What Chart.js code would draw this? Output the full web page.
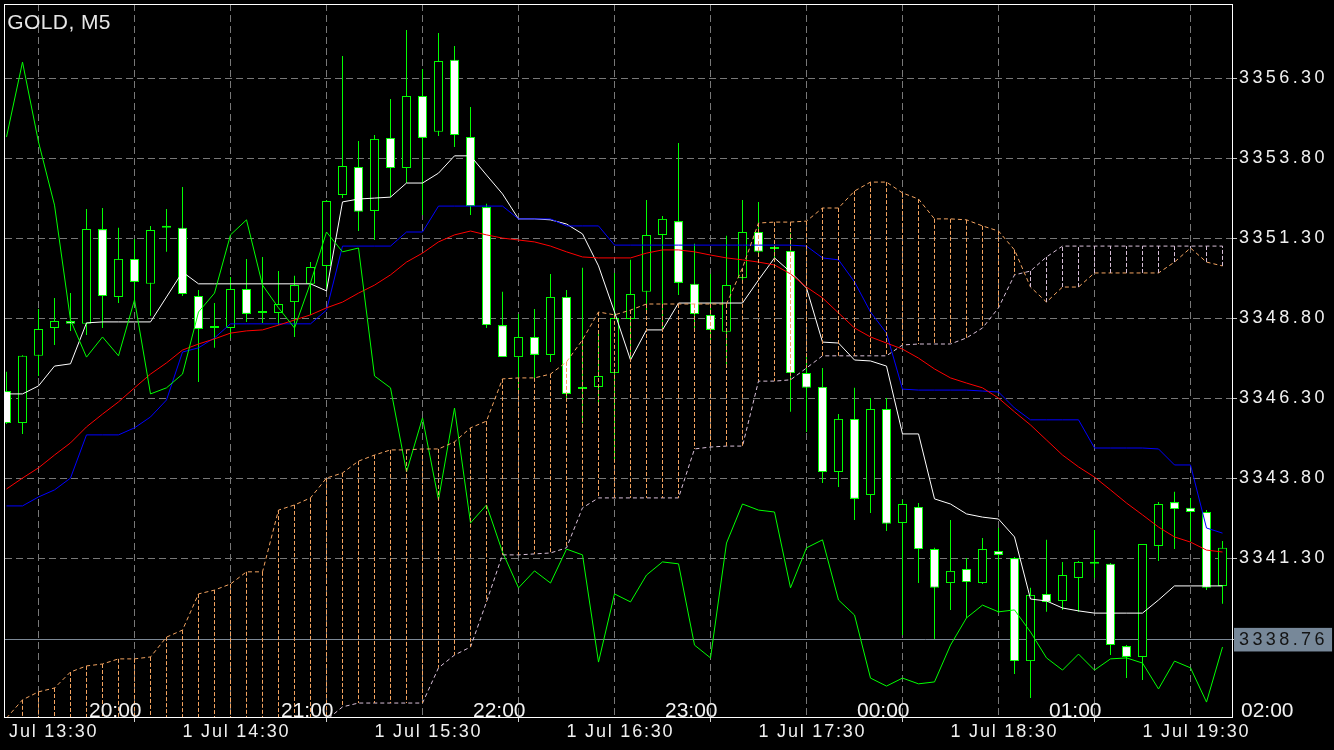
<!DOCTYPE html>
<html>
<head>
<meta charset="utf-8">
<style>
html,body{margin:0;padding:0;background:#000;overflow:hidden}
#wrap{position:relative;width:1334px;height:750px;background:#000}
canvas{display:block}
</style>
<script src="https://cdn.jsdelivr.net/npm/chart.js"></script>
</head>
<body>
<div id="wrap"><canvas id="c" width="1334" height="750"></canvas></div>
<script>
// ---------------- data ----------------
const symbolTitle = 'GOLD, M5';

const barOpen = [3346.53, 3345.53, 3347.63, 3348.50, 3348.72, 3348.63, 3351.59, 3349.47, 3350.66, 3349.88,
 3351.63, 3351.63, 3349.50, 3348.50, 3348.50, 3349.72, 3348.97, 3348.97, 3349.31, 3349.88,
 3350.44, 3352.66, 3353.53, 3352.16, 3354.44, 3353.50, 3355.75, 3354.63, 3356.88, 3354.47,
 3352.28, 3348.59, 3347.59, 3348.22, 3347.66, 3349.47, 3346.59, 3346.66, 3347.09, 3348.78,
 3349.63, 3351.41, 3351.84, 3349.88, 3348.91, 3348.38, 3350.06, 3351.50, 3350.97, 3350.91,
 3347.09, 3346.66, 3344.00, 3345.66, 3343.28, 3345.97, 3342.41, 3342.91, 3341.59, 3340.53,
 3340.97, 3340.53, 3341.53, 3341.31, 3338.09, 3340.19, 3339.97, 3340.69, 3341.13, 3341.13,
 3338.56, 3338.22, 3341.69, 3343.06, 3342.88, 3342.75, 3340.44];

const barHigh = [3347.13, 3347.65, 3349.09, 3349.44, 3349.59, 3352.22, 3352.25, 3351.63, 3351.28, 3351.69,
 3352.22, 3352.91, 3349.69, 3349.28, 3350.09, 3350.66, 3350.72, 3350.28, 3350.13, 3350.56,
 3352.50, 3357.00, 3354.34, 3354.53, 3355.66, 3357.81, 3356.59, 3357.72, 3357.31, 3355.41,
 3352.38, 3349.63, 3348.94, 3349.09, 3350.19, 3349.69, 3350.38, 3348.44, 3350.22, 3350.63,
 3352.50, 3352.00, 3354.28, 3351.13, 3350.19, 3351.38, 3352.50, 3352.44, 3351.09, 3351.47,
 3347.59, 3347.25, 3345.81, 3346.63, 3346.31, 3346.31, 3343.13, 3343.03, 3341.63, 3342.50,
 3341.31, 3341.94, 3342.25, 3341.34, 3340.38, 3341.88, 3341.19, 3341.22, 3342.19, 3341.16,
 3338.59, 3341.75, 3343.06, 3343.38, 3343.19, 3342.81, 3341.84];

const barLow = [3345.50, 3345.19, 3347.00, 3347.97, 3348.41, 3348.28, 3348.50, 3349.28, 3349.31, 3348.88,
 3350.88, 3349.50, 3346.81, 3347.88, 3348.19, 3348.69, 3348.66, 3348.59, 3348.22, 3348.91,
 3349.72, 3352.56, 3351.53, 3351.25, 3352.59, 3353.03, 3352.03, 3354.50, 3354.16, 3352.03,
 3348.50, 3347.59, 3346.56, 3346.94, 3347.44, 3346.25, 3345.53, 3346.09, 3344.34, 3347.50,
 3349.06, 3348.44, 3349.53, 3348.44, 3348.13, 3347.34, 3349.97, 3350.84, 3350.56, 3345.88,
 3345.25, 3343.66, 3343.53, 3342.50, 3342.72, 3342.16, 3338.91, 3340.53, 3338.78, 3339.69,
 3339.44, 3340.50, 3339.59, 3337.69, 3336.94, 3339.63, 3339.69, 3339.63, 3340.69, 3338.28,
 3337.56, 3337.50, 3341.22, 3341.59, 3341.81, 3340.31, 3339.88];

const barClose = [3345.53, 3347.63, 3348.47, 3348.72, 3348.63, 3351.59, 3349.50, 3350.66, 3349.94, 3351.56,
 3351.63, 3349.56, 3348.47, 3348.50, 3349.72, 3348.94, 3348.97, 3349.25, 3349.84, 3350.41,
 3352.47, 3353.56, 3352.13, 3354.41, 3353.50, 3355.75, 3354.44, 3356.84, 3354.53, 3352.31,
 3348.59, 3347.59, 3348.22, 3347.66, 3349.47, 3346.44, 3346.59, 3347.00, 3348.81, 3349.56,
 3351.41, 3351.91, 3349.91, 3348.94, 3348.44, 3349.84, 3351.50, 3350.88, 3350.97, 3347.09,
 3346.63, 3344.00, 3345.66, 3343.16, 3345.97, 3342.38, 3343.00, 3341.59, 3340.38, 3340.91,
 3340.56, 3341.59, 3341.41, 3338.09, 3340.16, 3339.94, 3340.78, 3341.19, 3341.13, 3338.59,
 3338.22, 3341.75, 3343.00, 3342.84, 3342.75, 3340.38, 3341.63];

// white line (Tenkan-sen)
const tenkan = [3346.44, 3346.44, 3346.69, 3347.31, 3347.38, 3348.66, 3348.69, 3348.69, 3348.69, 3348.69,
 3349.47, 3350.25, 3349.88, 3349.88, 3349.88, 3349.88, 3349.88, 3349.88, 3349.88, 3349.88,
 3349.66, 3352.44, 3352.53, 3352.56, 3352.59, 3353.03, 3353.03, 3353.34, 3353.88, 3353.88,
 3353.28, 3352.69, 3351.91, 3351.91, 3351.88, 3351.75, 3351.44, 3350.44, 3349.00, 3347.50,
 3348.44, 3348.44, 3349.28, 3349.28, 3349.28, 3349.28, 3349.28, 3350.00, 3350.69, 3350.25,
 3349.75, 3348.06, 3348.03, 3347.50, 3347.47, 3347.31, 3345.19, 3345.19, 3343.16, 3343.00,
 3342.69, 3342.59, 3342.53, 3341.97, 3340.03, 3339.97, 3339.75, 3339.66, 3339.59, 3339.59,
 3339.59, 3339.59, 3340.00, 3340.44, 3340.44, 3340.44, 3340.44];

// blue line (Kijun-sen)
const kijun = [3342.94, 3342.94, 3343.22, 3343.44, 3343.81, 3345.16, 3345.16, 3345.16, 3345.38, 3345.72,
 3346.25, 3347.75, 3347.88, 3348.19, 3348.63, 3348.63, 3348.63, 3348.63, 3348.63, 3348.63,
 3349.06, 3351.06, 3351.06, 3351.06, 3351.06, 3351.50, 3351.50, 3352.31, 3352.31, 3352.31,
 3352.31, 3352.31, 3351.91, 3351.91, 3351.91, 3351.69, 3351.69, 3351.69, 3351.09, 3351.09,
 3351.09, 3351.09, 3351.09, 3351.09, 3351.09, 3351.09, 3351.09, 3351.09, 3351.09, 3351.09,
 3351.06, 3350.69, 3350.63, 3349.94, 3349.00, 3348.34, 3346.59, 3346.56, 3346.56, 3346.56,
 3346.56, 3346.53, 3346.50, 3346.00, 3345.63, 3345.63, 3345.63, 3345.63, 3344.75, 3344.75,
 3344.75, 3344.75, 3344.72, 3344.22, 3344.22, 3342.25, 3342.09];

// red moving average
const maRed = [3343.47, 3343.81, 3344.13, 3344.53, 3344.91, 3345.41, 3345.81, 3346.19, 3346.63, 3347.06,
 3347.41, 3347.81, 3348.00, 3348.16, 3348.34, 3348.41, 3348.44, 3348.59, 3348.75, 3348.91,
 3349.13, 3349.31, 3349.59, 3349.84, 3350.16, 3350.56, 3350.84, 3351.19, 3351.41, 3351.53,
 3351.41, 3351.31, 3351.25, 3351.19, 3351.06, 3350.88, 3350.72, 3350.69, 3350.69, 3350.69,
 3350.84, 3350.94, 3350.94, 3350.88, 3350.78, 3350.69, 3350.63, 3350.56, 3350.47, 3350.19,
 3349.78, 3349.44, 3348.97, 3348.50, 3348.22, 3348.03, 3347.84, 3347.56, 3347.22, 3346.94,
 3346.78, 3346.63, 3346.31, 3345.88, 3345.47, 3345.00, 3344.53, 3344.16, 3343.84, 3343.44,
 3343.03, 3342.66, 3342.28, 3341.97, 3341.81, 3341.56, 3341.50];

// green line (Chikou span)
const chikou = [3354.47, 3356.81, 3354.31, 3352.34, 3348.75, 3347.59, 3348.22, 3347.63, 3349.38, 3346.44,
 3346.63, 3347.06, 3349.00, 3349.59, 3351.41, 3351.88, 3349.84, 3349.13, 3348.50, 3349.91,
 3351.50, 3350.88, 3351.00, 3347.00, 3346.63, 3344.00, 3345.69, 3343.13, 3346.00, 3342.41,
 3342.97, 3341.50, 3340.38, 3340.91, 3340.53, 3341.59, 3341.41, 3338.06, 3340.19, 3339.94,
 3340.78, 3341.19, 3341.13, 3338.59, 3338.19, 3341.78, 3343.00, 3342.81, 3342.75, 3340.38,
 3341.63, 3341.88, 3340.00, 3339.53, 3337.56, 3337.31, 3337.56, 3337.38, 3337.44, 3338.59,
 3339.44, 3339.84, 3339.63, 3339.69, 3339.00, 3338.19, 3337.81, 3338.31, 3337.81, 3338.16,
 3338.19, 3338.03, 3337.22, 3338.09, 3337.88, 3336.81, 3338.53];

// cloud: Senkou span A (sandy brown) and span B (thistle)
const spanA = [3336.31, 3336.88, 3337.13, 3337.25, 3337.75, 3337.94, 3338.00, 3338.16, 3338.16, 3338.22,
 3338.84, 3339.06, 3340.19, 3340.31, 3340.50, 3340.88, 3340.88, 3342.81, 3342.97, 3343.19,
 3343.81, 3343.97, 3344.34, 3344.53, 3344.69, 3344.69, 3344.72, 3344.72, 3344.94, 3345.38,
 3345.59, 3346.91, 3346.94, 3346.94, 3347.06, 3347.44, 3348.13, 3349.00, 3348.91, 3349.06,
 3349.25, 3349.25, 3349.25, 3349.25, 3349.25, 3349.25, 3350.38, 3351.78, 3351.81, 3351.81,
 3351.84, 3352.25, 3352.25, 3352.78, 3353.06, 3353.06, 3352.72, 3352.53, 3351.91, 3351.91,
 3351.88, 3351.69, 3351.53, 3350.94, 3349.78, 3349.31, 3349.78, 3349.78, 3350.22, 3350.22,
 3350.22, 3350.22, 3350.22, 3350.56, 3351.00, 3350.56, 3350.44];

const spanB = [3335.00, 3335.00, 3335.00, 3335.00, 3335.00, 3335.00, 3335.00, 3335.00, 3335.00, 3335.00,
 3335.00, 3335.00, 3335.00, 3335.00, 3335.00, 3335.00, 3335.00, 3336.25, 3336.25, 3336.25,
 3336.25, 3336.66, 3336.78, 3336.78, 3336.78, 3336.78, 3336.78, 3337.88, 3338.28, 3338.53,
 3339.94, 3341.41, 3341.41, 3341.44, 3341.47, 3341.63, 3342.88, 3343.19, 3343.19, 3343.19,
 3343.19, 3343.19, 3343.19, 3344.72, 3344.78, 3344.81, 3344.81, 3346.84, 3346.84, 3346.88,
 3347.25, 3347.63, 3347.63, 3347.63, 3347.63, 3347.63, 3347.97, 3348.00, 3348.00, 3348.00,
 3348.19, 3348.50, 3349.13, 3350.16, 3350.28, 3350.72, 3351.06, 3351.06, 3351.06, 3351.06,
 3351.06, 3351.06, 3351.06, 3351.06, 3351.06, 3351.06, 3351.06];

const priceTicks = [3356.30, 3353.80, 3351.30, 3348.80, 3346.30, 3343.80, 3341.30];
const bidPrice = 3338.76;

const xTickBars = [-1, 5, 11, 17, 23, 29, 35, 41, 47, 53, 59, 65, 71];
const timeLabelBars = [-1, 11, 23, 35, 47, 59, 71];
const timeLabels = ['1 Jul 13:30', '1 Jul 14:30', '1 Jul 15:30', '1 Jul 16:30', '1 Jul 17:30', '1 Jul 18:30', '1 Jul 19:30'];
const localTimeBars = [5, 17, 29, 41, 53, 65, 77];
const localTimeLabels = ['20:00', '21:00', '22:00', '23:00', '00:00', '01:00', '02:00'];

// ---------------- build ----------------
const FONT = '"Liberation Sans", Arial, sans-serif';
const idx = barOpen.map((_, i) => i);
const pts = arr => arr.map((v, i) => ({x: i, y: v}));
const bodyData = idx.map(i => ({x: i, y: [Math.min(barOpen[i], barClose[i]), Math.max(barOpen[i], barClose[i])]}));
const wickData = idx.map(i => ({x: i, y: [barLow[i], barHigh[i]]}));
const bodyFill = idx.map(i => barClose[i] < barOpen[i] ? '#ffffff' : '#000000');
const kumoUp = [], kumoDown = [];
idx.forEach(i => {
  const t = spanA[i] >= spanB[i] ? kumoUp : kumoDown;
  t.push({x: i, y: spanA[i]}, {x: i, y: spanB[i]}, {x: i, y: null});
});

function spaced(spacing) {
  return function (scale) {
    if (!scale.__spaced) {
      const orig = scale.drawLabels;
      scale.drawLabels = function (area) {
        const c = this.ctx; const prev = c.letterSpacing;
        c.letterSpacing = spacing;
        orig.call(this, area);
        c.letterSpacing = prev || '0px';
      };
      scale.__spaced = true;
    }
  };
}
const spaceX = spaced('1.8px');
const spaceY = spaced('3.4px');

const lineBase = {type: 'line', pointRadius: 0, borderWidth: 1, tension: 0, fill: false, spanGaps: false};

const overlay = {
  id: 'overlay',
  afterDraw(chart) {
    const {ctx, chartArea: a, scales: {x}} = chart;
    ctx.save();
    ctx.strokeStyle = '#ffffff';
    ctx.lineWidth = 1;
    ctx.strokeRect(a.left - 0.5, a.top + 0.5, a.right - a.left + 1, a.bottom - a.top - 1);
    ctx.fillStyle = '#f2f2f2';
    ctx.textAlign = 'left';
    ctx.textBaseline = 'alphabetic';
    ctx.font = '21px ' + FONT;
    localTimeBars.forEach((b, k) => ctx.fillText(localTimeLabels[k], x.getPixelForValue(b) + 2.5, a.bottom - 1.5));
    ctx.fillStyle = '#e6e6e6';
    ctx.letterSpacing = '0.4px';
    ctx.fillText(symbolTitle, a.left + 2.3, a.top + 25.3);
    ctx.restore();
  }
};

new Chart(document.getElementById('c'), {
  type: 'line',
  data: {
    datasets: [
      Object.assign({}, lineBase, {label: 'kumoUp', data: kumoUp, borderColor: '#F4A460', borderDash: [4, 2], order: 1}),
      Object.assign({}, lineBase, {label: 'kumoDown', data: kumoDown, borderColor: '#D8BFD8', borderDash: [4, 2], order: 1}),
      Object.assign({}, lineBase, {label: 'spanA', data: pts(spanA), borderColor: '#F4A460', borderDash: [4, 3], order: 2}),
      Object.assign({}, lineBase, {label: 'spanB', data: pts(spanB), borderColor: '#D8BFD8', borderDash: [4, 3], order: 2}),
      Object.assign({}, lineBase, {label: 'chikou', data: pts(chikou), borderColor: '#00ff00', order: 3}),
      Object.assign({}, lineBase, {label: 'ma', data: pts(maRed), borderColor: '#ff0000', order: 4}),
      Object.assign({}, lineBase, {label: 'kijun', data: pts(kijun), borderColor: '#0000ff', order: 5}),
      Object.assign({}, lineBase, {label: 'tenkan', data: pts(tenkan), borderColor: '#ffffff', order: 6}),
      {type: 'bar', label: 'body', data: bodyData, backgroundColor: bodyFill, borderColor: '#00ff00',
       borderWidth: 1, borderSkipped: false, grouped: false, maxBarThickness: 9, minBarLength: 2,
       inflateAmount: 0, order: 7},
      {type: 'bar', label: 'wick', data: wickData, backgroundColor: '#00ff00', borderWidth: 0,
       grouped: false, maxBarThickness: 1, inflateAmount: 0, order: 8}
    ]
  },
  options: {
    responsive: false,
    animation: false,
    devicePixelRatio: 1,
    events: [],
    layout: {padding: {left: 5, top: 4, right: 0, bottom: 0}},
    plugins: {legend: {display: false}, tooltip: {enabled: false}, title: {display: false}},
    scales: {
      x: {
        type: 'linear', position: 'bottom', min: -0.09375, max: 76.59375, offset: false,
        afterBuildTicks: s => { s.ticks = xTickBars.map(v => ({value: v})); },
        afterFit: s => { s.height = 32; s.paddingLeft = 0; s.paddingRight = 0; spaceX(s); },
        grid: {
          color: '#787878', lineWidth: 1, drawOnChartArea: true, drawTicks: true, tickLength: 4,
          tickColor: c => timeLabelBars.includes(c.tick && c.tick.value) ? '#cfcfcf' : 'rgba(0,0,0,0)'
        },
        border: {display: false, dash: [7, 4]},
        ticks: {
          autoSkip: false, maxRotation: 0, minRotation: 0, align: 'start', padding: 1,
          color: '#f0f0f0', font: {family: FONT, size: 18, lineHeight: 1},
          callback: v => { const k = timeLabelBars.indexOf(v); return k >= 0 ? timeLabels[k] : ''; }
        }
      },
      y: {
        type: 'linear', position: 'right', min: 3336.3125, max: 3358.625,
        afterBuildTicks: s => { s.ticks = priceTicks.concat([bidPrice]).map(v => ({value: v})); },
        afterFit: s => { s.width = 102; s.paddingTop = 0; s.paddingBottom = 0; spaceY(s); },
        grid: {
          color: c => (c.tick && c.tick.value === bidPrice) ? '#7d8996' : '#787878',
          lineWidth: 1, drawTicks: true, tickLength: 5, tickColor: '#c8c8c8'
        },
        border: {display: false, dash: c => (c.tick && c.tick.value === bidPrice) ? [] : [7, 4]},
        ticks: {
          autoSkip: false, padding: 2,
          color: c => (c.tick && c.tick.value === bidPrice) ? '#141414' : '#f0f0f0',
          font: {family: FONT, size: 18},
          showLabelBackdrop: c => !!(c.tick && c.tick.value === bidPrice),
          backdropColor: '#778899',
          backdropPadding: {left: 5, right: 28, top: 1, bottom: 1},
          callback: v => Number(v).toFixed(2)
        }
      }
    }
  },
  plugins: [overlay]
});
</script>
</body>
</html>
